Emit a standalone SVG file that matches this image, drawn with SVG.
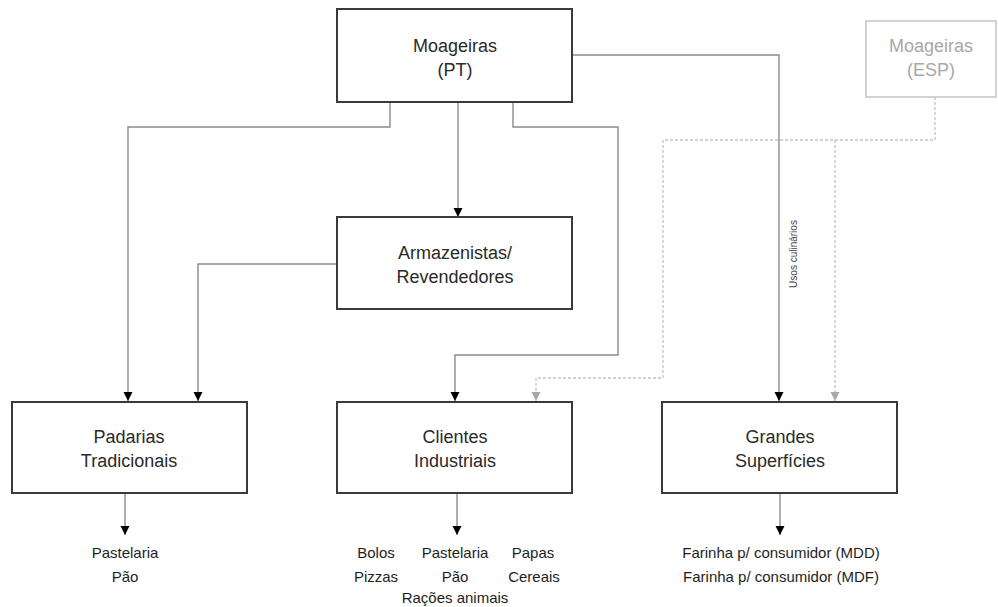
<svg xmlns="http://www.w3.org/2000/svg" width="998" height="607" viewBox="0 0 998 607">
<defs>
<style>
.box{fill:#fff;stroke:#3a3a3a;stroke-width:2}
.boxg{fill:#fff;stroke:#c4c4c4;stroke-width:1.5}
.lbl{font-family:"Liberation Sans",Arial,sans-serif;font-size:18px;fill:#2a2a2a;text-anchor:middle}
.lblg{font-family:"Liberation Sans",Arial,sans-serif;font-size:18px;fill:#a8a8a8;text-anchor:middle}
.sm{font-family:"Liberation Sans",Arial,sans-serif;font-size:15px;fill:#1e1e1e;text-anchor:middle}
.tiny{font-family:"Liberation Sans",Arial,sans-serif;font-size:10px;fill:#444;text-anchor:middle}
.ln{fill:none;stroke:#8c8c8c;stroke-width:1.4}
.dl{fill:none;stroke:#c4c4c4;stroke-width:1.3;stroke-dasharray:3 2}
</style>
<marker id="ah" viewBox="0 -5 10 10" refX="9" refY="0" markerWidth="10" markerHeight="10" markerUnits="userSpaceOnUse" orient="auto">
<path d="M0,-4.5 L9,0 L0,4.5 z" fill="#000"/>
</marker>
<marker id="ahg" viewBox="0 -5 10 10" refX="9" refY="0" markerWidth="10" markerHeight="10" markerUnits="userSpaceOnUse" orient="auto">
<path d="M0,-4.5 L9,0 L0,4.5 z" fill="#a8a8a8"/>
</marker>
</defs>
<rect width="998" height="607" fill="#fff"/>
<g id="connectors">
<path class="ln" d="M390,102 V127 H128 V401" marker-end="url(#ah)"/>
<path class="ln" d="M458,102 V217" marker-end="url(#ah)"/>
<path class="ln" d="M513,102 V127 H618 V355 H455 V401" marker-end="url(#ah)"/>
<path class="ln" d="M572,55 H779 V401" marker-end="url(#ah)"/>
<path class="ln" d="M337,264 H198 V401" marker-end="url(#ah)"/>
<path class="ln" d="M125,493 V535" marker-end="url(#ah)"/>
<path class="ln" d="M457,493 V535" marker-end="url(#ah)"/>
<path class="ln" d="M780,493 V535" marker-end="url(#ah)"/>
<path class="dl" d="M935,97 V140 H663 V378 H536 V401" marker-end="url(#ahg)"/>
<path class="dl" d="M835,140 V401" marker-end="url(#ahg)"/>
<text class="tiny" transform="translate(797,254) rotate(-90)">Usos culinários</text>
</g>
<g id="moageiras-pt">
<rect class="box" x="337" y="9" width="235" height="93"/>
<text class="lbl" x="455" y="52">Moageiras</text>
<text class="lbl" x="455" y="76">(PT)</text>
</g>
<g id="moageiras-esp">
<rect class="boxg" x="866" y="21" width="130" height="76"/>
<text class="lblg" x="931" y="52">Moageiras</text>
<text class="lblg" x="931" y="76">(ESP)</text>
</g>
<g id="armazenistas">
<rect class="box" x="337" y="217" width="235" height="92"/>
<text class="lbl" x="455" y="259">Armazenistas/</text>
<text class="lbl" x="455" y="283">Revendedores</text>
</g>
<g id="padarias">
<rect class="box" x="12" y="402" width="235" height="91"/>
<text class="lbl" x="129" y="443">Padarias</text>
<text class="lbl" x="129" y="467">Tradicionais</text>
</g>
<g id="clientes">
<rect class="box" x="337" y="402" width="235" height="91"/>
<text class="lbl" x="455" y="443">Clientes</text>
<text class="lbl" x="455" y="467">Industriais</text>
</g>
<g id="grandes">
<rect class="box" x="662" y="402" width="235" height="91"/>
<text class="lbl" x="780" y="443">Grandes</text>
<text class="lbl" x="780" y="467">Superfícies</text>
</g>
<g id="out-padarias">
<text class="sm" x="125" y="558">Pastelaria</text>
<text class="sm" x="125" y="582">Pão</text>
</g>
<g id="out-clientes">
<text class="sm" x="376" y="558">Bolos</text>
<text class="sm" x="455" y="558">Pastelaria</text>
<text class="sm" x="533" y="558">Papas</text>
<text class="sm" x="376" y="582">Pizzas</text>
<text class="sm" x="455" y="582">Pão</text>
<text class="sm" x="534" y="582">Cereais</text>
<text class="sm" x="455" y="603">Rações animais</text>
</g>
<g id="out-grandes">
<text class="sm" x="781" y="558">Farinha p/ consumidor (MDD)</text>
<text class="sm" x="781" y="582">Farinha p/ consumidor (MDF)</text>
</g>
</svg>
